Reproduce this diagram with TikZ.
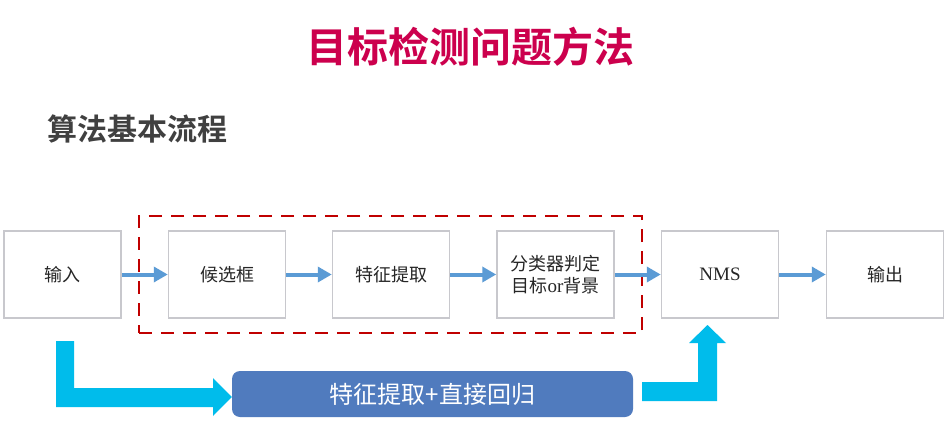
\documentclass[tikz,border=0pt]{standalone}
\usepackage{fontspec}
\setmainfont{Liberation Serif}
\newfontfamily\cjk{Noto Sans CJK SC}
\newfontfamily\cjkb{Noto Sans CJK SC Bold}
\usetikzlibrary{arrows.meta}
\definecolor{titlered}{RGB}{204,0,77}
\definecolor{subgray}{RGB}{64,64,64}
\definecolor{boxgray}{RGB}{200,200,205}
\definecolor{flowblue}{RGB}{91,155,213}
\definecolor{dashred}{RGB}{192,0,0}
\definecolor{cyanarrow}{RGB}{0,188,235}
\definecolor{regblue}{RGB}{80,123,190}
\tikzset{
  stepbox/.style={draw=boxgray, line width=1.5pt, fill=white, minimum width=117pt, minimum height=87pt, inner sep=0pt, align=center, font=\fontsize{18}{22}\selectfont\cjk, text=black!85},
  flow/.style={draw=flowblue, line width=4pt, -{Triangle[length=14pt,width=15pt]}, shorten >=0pt},
}
\begin{document}
\begin{tikzpicture}[x=1pt,y=-1pt]
\useasboundingbox[fill=white] (0,0) rectangle (951,428);
% titles
\node[text=titlered, font=\fontsize{41}{46}\selectfont\cjkb, inner sep=0pt] (title) at (470,47) {目标检测问题方法};
\node[text=subgray, font=\fontsize{30}{34}\selectfont\cjkb, inner sep=0pt, anchor=west] (sub) at (47,129) {算法基本流程};
% dashed group
\node[draw=dashred, line width=2.6pt, dash pattern=on 13pt off 9pt, minimum width=503pt, minimum height=117pt, inner sep=0pt] (grp) at (390.5,274.5) {};
% boxes
\node[stepbox] (in) at (62.5,274.5) {输入};
\node[stepbox] (cand) at (227,274.5) {候选框};
\node[stepbox] (feat) at (391,274.5) {特征提取};
\node[stepbox] (cls) at (555.5,274.5) {分类器判定\\目标{\fontsize{19}{22}\selectfont\rmfamily or}背景};
\node[stepbox, font=\fontsize{19}{22}\selectfont\rmfamily] (nms) at (720,274.5) {NMS};
\node[stepbox] (out) at (885,274.5) {输出};
% flow arrows
\draw[flow] (in.east) -- (cand.west);
\draw[flow] (cand.east) -- (feat.west);
\draw[flow] (feat.east) -- (cls.west);
\draw[flow] (cls.east) -- (nms.west);
\draw[flow] (nms.east) -- (out.west);
% regression box
\node[fill=regblue, rounded corners=8pt, minimum width=401pt, minimum height=46pt, inner sep=0pt, text=white, font=\fontsize{24}{28}\selectfont\cjk] (reg) at (432.5,394) {特征提取+直接回归};
% cyan bent arrows
\coordinate (ra) at (707.5,325);
\fill[cyanarrow] (56,341) -- (74,341) -- (74,388) -- (213,388) -- (213,378) -- (reg.west |- 0,397) -- (213,416) -- (213,407) -- (56,407) -- cycle;
\fill[cyanarrow] (642,382) -- (698,382) -- (698,343) -- (689,343) -- (ra) -- (726,343) -- (717,343) -- (717,401) -- (642,401) -- cycle;
\end{tikzpicture}
\end{document}
